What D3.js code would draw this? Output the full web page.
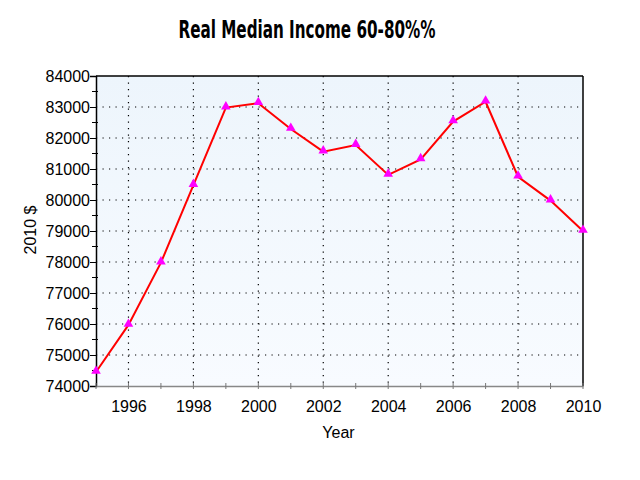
<!DOCTYPE html>
<html>
<head>
<meta charset="utf-8">
<script src="https://cdn.jsdelivr.net/npm/d3@7"></script>
<style>
  body { margin: 0; background: #fff; }
  svg text { font-family: "Liberation Sans", Arial, sans-serif; }
</style>
</head>
<body>
<div id="chart"></div>
<script>
var years = [1995, 1996, 1997, 1998, 1999, 2000, 2001, 2002, 2003, 2004, 2005, 2006, 2007, 2008, 2009, 2010];
var income = [74450, 75970, 77980, 80480, 82980, 83120, 82290, 81560, 81770, 80810, 81310, 82530, 83170, 80750, 79980, 79000];
var yTicks = [74000, 75000, 76000, 77000, 78000, 79000, 80000, 81000, 82000, 83000, 84000];
var xTicks = [1996, 1998, 2000, 2002, 2004, 2006, 2008, 2010];

var margin = {top: 76, right: 57, bottom: 94, left: 96},
    width = 640 - margin.left - margin.right,
    height = 480 - margin.top - margin.bottom;
var font = "'Liberation Sans', Arial, sans-serif";

var svg = d3.select("#chart").append("svg")
    .attr("width", 640)
    .attr("height", 480);

var defs = svg.append("defs");
var grad = defs.append("linearGradient")
    .attr("id", "bg").attr("x1", 0).attr("y1", 0).attr("x2", 0).attr("y2", 1);
grad.append("stop").attr("offset", "0%").attr("stop-color", "#edf5fc");
grad.append("stop").attr("offset", "100%").attr("stop-color", "#f8fbff");

svg.append("text")
    .attr("x", 307)
    .attr("y", 38)
    .attr("text-anchor", "middle")
    .attr("textLength", 257)
    .attr("lengthAdjust", "spacingAndGlyphs")
    .style("font-family", "'DejaVu Sans Condensed', 'DejaVu Sans', sans-serif")
    .style("font-stretch", "condensed")
    .style("font-weight", "bold")
    .style("font-size", "25px")
    .text("Real Median Income 60-80%%");

var g = svg.append("g")
    .attr("transform", "translate(" + margin.left + "," + margin.top + ")");

var x = d3.scaleLinear().domain([1995, 2010]).range([0, width]);
var y = d3.scaleLinear().domain([74000, 84000]).range([height, 0]);

g.append("rect")
    .attr("width", width).attr("height", height)
    .attr("fill", "url(#bg)");

// grid
g.selectAll(".hgrid").data(yTicks.slice(1, -1)).enter().append("line")
    .attr("x1", 0).attr("x2", width)
    .attr("y1", function(d) { return y(d); }).attr("y2", function(d) { return y(d); })
    .attr("stroke", "#000").attr("stroke-width", 1.2)
    .attr("stroke-dasharray", "1.2,5.3");
g.selectAll(".vgrid").data(xTicks.slice(0, -1)).enter().append("line")
    .attr("y1", 0).attr("y2", height)
    .attr("x1", function(d) { return x(d); }).attr("x2", function(d) { return x(d); })
    .attr("stroke", "#000").attr("stroke-width", 1.2)
    .attr("stroke-dasharray", "1.2,5.3");

// frame top + right
g.append("line").attr("x1", 0).attr("x2", width).attr("y1", 0).attr("y2", 0)
    .attr("stroke", "#000").attr("stroke-width", 1.5);
g.append("line").attr("x1", width).attr("x2", width).attr("y1", 0).attr("y2", height)
    .attr("stroke", "#000").attr("stroke-width", 1.5);

// y axis
var yAxis = g.append("g")
    .attr("font-family", font)
    .call(d3.axisLeft(y).tickValues(yTicks).tickSize(6).tickFormat(d3.format("d")));
yAxis.select(".domain").attr("stroke", "#000").attr("stroke-width", 1.5);
yAxis.selectAll("text").style("font-family", font).style("font-size", "16px")
    .attr("fill", "#000").attr("x", -6).attr("dy", "0.36em");
g.selectAll(".minor").data(d3.range(74500, 84000, 1000)).enter().append("line")
    .attr("x1", -4).attr("x2", 2)
    .attr("y1", function(d) { return y(d); }).attr("y2", function(d) { return y(d); })
    .attr("stroke", "#000");

// x axis
var xAxis = g.append("g")
    .attr("font-family", font)
    .attr("transform", "translate(0," + height + ")")
    .call(d3.axisBottom(x).tickValues(xTicks).tickSize(0).tickFormat(d3.format("d")));
xAxis.select(".domain").attr("stroke", "#888").attr("stroke-width", 1.5);
xAxis.selectAll("text").style("font-family", font).style("font-size", "16px")
    .attr("fill", "#000").attr("y", 15);
g.selectAll(".xtick").data(years).enter().append("line")
    .attr("x1", function(d) { return x(d); }).attr("x2", function(d) { return x(d); })
    .attr("y1", height - 3).attr("y2", height + 3)
    .attr("stroke", "#777");

// labels
g.append("text")
    .attr("x", width / 2 - 1).attr("y", height + 52)
    .attr("text-anchor", "middle")
    .style("font-family", font)
    .style("font-size", "16px")
    .text("Year");
svg.append("text")
    .attr("transform", "translate(36,230) rotate(-90)")
    .attr("text-anchor", "middle")
    .style("font-family", font)
    .style("font-size", "16px")
    .text("2010 $");

// series
var line = d3.line()
    .x(function(d, i) { return x(years[i]); })
    .y(function(d) { return y(d); });
g.append("path")
    .datum(income)
    .attr("fill", "none")
    .attr("stroke", "#ff0000")
    .attr("stroke-width", 2)
    .attr("d", line);

g.selectAll(".pt").data(income).enter().append("path")
    .attr("d", d3.symbol().type(d3.symbolTriangle).size(40))
    .attr("transform", function(d, i) { return "translate(" + x(years[i]) + "," + (y(d) - 1) + ")"; })
    .attr("fill", "#ff00ff");
</script>
</body>
</html>
